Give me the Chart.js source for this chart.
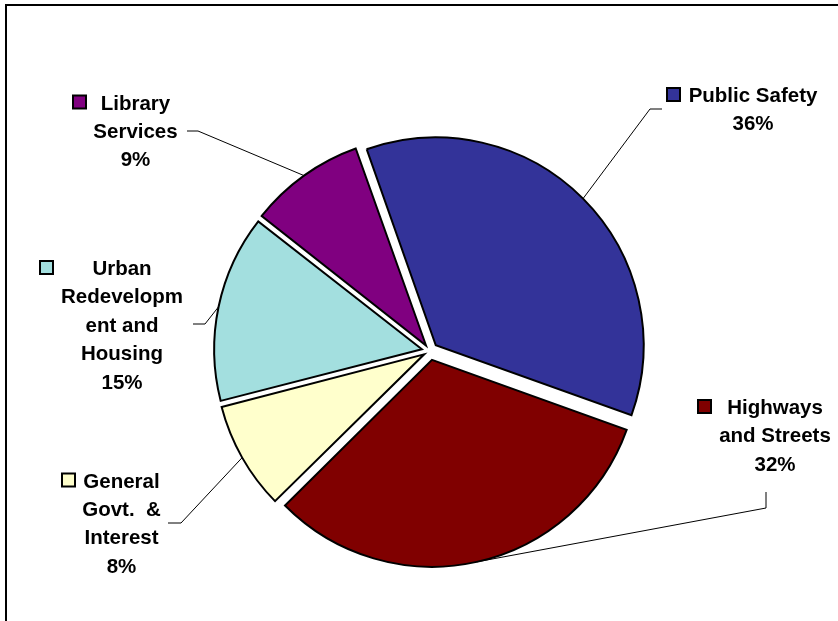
<!DOCTYPE html>
<html>
<head>
<meta charset="utf-8">
<script src="https://cdn.jsdelivr.net/npm/chart.js@4.4.1/dist/chart.umd.min.js"></script>
<style>
  html, body { margin: 0; padding: 0; background: #fff; }
  #wrap  { position: relative; width: 838px; height: 621px; overflow: hidden; }
  #frame { position: absolute; left: 5px; top: 4px; width: 900px; height: 700px;
           border-top: 2px solid #000; border-left: 2px solid #000; pointer-events: none; }
  canvas { position: absolute; left: 0; top: 0; }
</style>
</head>
<body>
<div id="wrap">
  <canvas id="pie" width="838" height="621"></canvas>
  <div id="frame"></div>
</div>
<script>
// ── Data ──────────────────────────────────────────────────────
const categories  = ['Public Safety', 'Highways and Streets', 'General Govt. & Interest',
                     'Urban Redevelopment and Housing', 'Library Services'];
const labelLines  = [['Public Safety'], ['Highways', 'and Streets'], ['General', 'Govt.  &', 'Interest'],
                     ['Urban', 'Redevelopm', 'ent and', 'Housing'], ['Library', 'Services']];
const shares      = [35.9, 32.1, 8.4, 14.6, 9.0];
const sliceColors = ['#333399', '#800000', '#ffffcc', '#a3dfdf', '#800080'];

const total   = shares.reduce((a, b) => a + b, 0);
const EXPLODE = 10;   // px each slice is pulled away from the centre

// Chart.js moves an arc by offset/4 * (2 - sin(circ)); invert that so every slice moves EXPLODE px
function sliceOffset(ctx) {
  if (ctx.dataIndex === undefined) return EXPLODE * 4;
  const circ = Math.min(Math.PI, shares[ctx.dataIndex] / total * 2 * Math.PI);
  return EXPLODE * 4 / (2 - Math.sin(circ));
}

// ── Label boxes (key square + centred lines + leader line) ─────
const sliceLabels = {
  id: 'sliceLabels',
  afterDatasetsDraw(chart, args, opts) {
    const ctx  = chart.ctx;
    const meta = chart.getDatasetMeta(0);

    meta.data.forEach((arc, i) => {
      const box   = opts.boxes[i];
      const mid   = (arc.startAngle + arc.endAngle) / 2;
      const circ  = arc.endAngle - arc.startAngle;
      const shift = arc.options.offset / 4 * (2 - Math.sin(Math.min(Math.PI, circ)));
      const r     = arc.outerRadius + shift;
      const ax    = arc.x + Math.cos(mid) * r;
      const ay    = arc.y + Math.sin(mid) * r;

      ctx.save();
      // leader
      ctx.strokeStyle = '#000';
      ctx.lineWidth   = 1;
      ctx.beginPath();
      ctx.moveTo(box.leader[0][0], box.leader[0][1]);
      box.leader.slice(1).forEach(p => ctx.lineTo(p[0], p[1]));
      ctx.lineTo(ax, ay);
      ctx.stroke();

      // key square
      const keyTop = box.y - 14;
      ctx.fillStyle = sliceColors[i];
      ctx.fillRect(box.keyX + 1, keyTop, 13, 13);
      ctx.lineWidth = 2;
      ctx.strokeRect(box.keyX + 1, keyTop, 13, 13);

      // text
      ctx.fillStyle    = '#000';
      ctx.font         = 'bold 20.5px "Liberation Sans", Arial, sans-serif';
      ctx.textAlign    = 'center';
      ctx.textBaseline = 'alphabetic';
      const lines = [...labelLines[i], Math.round(shares[i] / total * 100) + '%'];
      lines.forEach((t, k) => ctx.fillText(t, box.cx, box.y + k * opts.lineHeight));
      ctx.restore();
    });
  }
};

new Chart(document.getElementById('pie'), {
  type: 'pie',
  data: {
    labels: categories,
    datasets: [{
      data: shares,
      backgroundColor: sliceColors,
      borderColor: '#000',
      borderWidth: 2,
      borderJoinStyle: 'miter',
      offset: sliceOffset,
    }],
  },
  options: {
    responsive: false,
    animation: false,
    rotation: -19.5,
    radius: 206,
    layout: { padding: { left: 30, right: 8, top: 100, bottom: 19 } },
    plugins: {
      legend:  { display: false },
      tooltip: { enabled: false },
      sliceLabels: {
        lineHeight: 28.4,
        boxes: [
          { keyX: 666, cx: 753,   y: 102,   leader: [[662, 109], [650, 109]] },
          { keyX: 697, cx: 775,   y: 414,   leader: [[766, 492], [766, 508]] },
          { keyX: 61,  cx: 121.5, y: 487.5, leader: [[168, 523], [181, 523]] },
          { keyX: 39,  cx: 122,   y: 275,   leader: [[193, 324], [205, 324]] },
          { keyX: 72,  cx: 135.5, y: 109.5, leader: [[187, 131], [198, 131]] },
        ],
      },
    },
  },
  plugins: [sliceLabels],
});
</script>
</body>
</html>
